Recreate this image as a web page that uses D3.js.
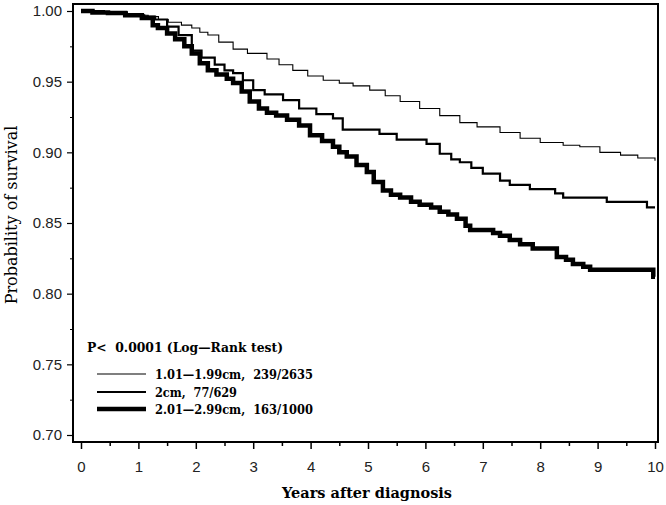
<!DOCTYPE html>
<html>
<head>
<meta charset="utf-8">
<script src="https://cdn.jsdelivr.net/npm/d3@7"></script>
<style>
html,body{margin:0;padding:0;background:#fff;}
svg{display:block;}
</style>
</head>
<body>
<svg id="chart" width="666" height="505"></svg>
<script>
// ---- data ----
const xTicks = [0,1,2,3,4,5,6,7,8,9,10];
const yTicks = [0.70,0.75,0.80,0.85,0.90,0.95,1.00];
const yTickLabels = ["0.70","0.75","0.80","0.85","0.90","0.95","1.00"];
const seriesNames = ["1.01\u20141.99cm,  239/2635","2cm,  77/629","2.01\u20142.99cm,  163/1000"];
const pValueText = "P<  0.0001 (Log\u2014Rank test)";
const xTitle = "Years after diagnosis";
const yTitle = "Probability of survival";

const thinTimes = [0,0.3,0.6,0.9,1.17,1.35,1.52,1.75,1.93,2.07,2.21,2.4,2.65,2.9,3.24,3.45,3.69,3.95,4.22,4.5,4.74,5.03,5.3,5.56,5.9,6.25,6.6,6.9,7.3,7.65,8.0,8.4,8.69,9.04,9.4,9.7,10.0];
const thinSurv  = [1.000,0.9995,0.998,0.997,0.996,0.994,0.992,0.990,0.988,0.985,0.983,0.978,0.973,0.970,0.966,0.962,0.958,0.954,0.951,0.949,0.947,0.944,0.940,0.936,0.931,0.926,0.921,0.918,0.914,0.910,0.907,0.905,0.904,0.900,0.898,0.896,0.894];

const midTimes = [0,0.4,0.8,1.1,1.29,1.5,1.7,1.93,2.1,2.33,2.5,2.65,2.82,3.0,3.2,3.52,3.8,4.1,4.39,4.56,5.2,5.5,6.02,6.25,6.45,6.6,6.8,7.0,7.3,7.47,7.82,8.26,8.4,9.16,9.86,10.0];
const midSurv  = [1.000,0.999,0.997,0.996,0.994,0.989,0.983,0.972,0.967,0.962,0.958,0.956,0.951,0.944,0.941,0.937,0.931,0.927,0.924,0.916,0.913,0.909,0.906,0.899,0.895,0.893,0.889,0.885,0.880,0.877,0.874,0.871,0.868,0.865,0.861,0.861];

const thickTimes = [0,0.2,0.47,0.77,1.06,1.25,1.34,1.5,1.64,1.8,1.93,2.07,2.21,2.36,2.54,2.65,2.8,2.94,3.1,3.24,3.4,3.59,3.8,3.99,4.2,4.39,4.5,4.63,4.8,4.98,5.1,5.26,5.4,5.56,5.75,5.9,6.1,6.25,6.4,6.55,6.7,6.78,7.18,7.3,7.47,7.65,7.87,8.29,8.45,8.57,8.75,8.87,9.97,10.0];
const thickSurv  = [1.000,0.999,0.9985,0.997,0.995,0.990,0.988,0.984,0.980,0.975,0.970,0.963,0.958,0.955,0.952,0.949,0.943,0.936,0.931,0.928,0.926,0.923,0.919,0.912,0.908,0.904,0.900,0.897,0.891,0.886,0.879,0.873,0.870,0.868,0.865,0.863,0.861,0.858,0.856,0.853,0.848,0.845,0.843,0.841,0.838,0.835,0.832,0.826,0.824,0.821,0.819,0.817,0.812,0.812];

// ---- chart ----
const svg = d3.select("#chart");
const x = d3.scaleLinear().domain([0,10]).range([81,655]);
const y = d3.scaleLinear().domain([0.70,1.00]).range([435,11]);
const frameL = 73, frameR = 658, frameT = 4, frameB = 442;

const serif = "'DejaVu Serif', 'Liberation Serif', serif";
const sans = "'Liberation Sans', 'DejaVu Sans', sans-serif";

// frame
svg.append("rect").attr("x",frameL).attr("y",frameT).attr("width",frameR-frameL).attr("height",frameB-frameT)
  .attr("fill","none").attr("stroke","#000").attr("stroke-width",2);

// x axis
const xAxis = d3.axisBottom(x).tickValues(xTicks).tickFormat(d3.format("d")).tickSize(7).tickPadding(12);
const gx = svg.append("g").attr("transform",`translate(0,${frameB})`).call(xAxis);
gx.select(".domain").remove();
gx.selectAll("line").attr("stroke","#000").attr("stroke-width",1.5);
gx.selectAll("text").attr("font-family",sans).attr("font-size",15).attr("fill","#222");
const gxm = svg.append("g").attr("transform",`translate(0,${frameB})`)
  .call(d3.axisBottom(x).tickValues(d3.range(0.5,10,1)).tickFormat("").tickSize(4));
gxm.select(".domain").remove();
gxm.selectAll("line").attr("stroke","#000").attr("stroke-width",1.5);

// y axis
const yAxis = d3.axisLeft(y).tickValues(yTicks).tickFormat((d,i)=>yTickLabels[i]).tickSize(6).tickPadding(5);
const gy = svg.append("g").attr("transform",`translate(${frameL},0)`).call(yAxis);
gy.select(".domain").remove();
gy.selectAll("line").attr("stroke","#000").attr("stroke-width",1.2);
gy.selectAll("text").attr("font-family",sans).attr("font-size",15).attr("fill","#222");
const gym = svg.append("g").attr("transform",`translate(${frameL},0)`)
  .call(d3.axisLeft(y).tickValues([0.725,0.775,0.825,0.875,0.925,0.975]).tickFormat("").tickSize(3));
gym.select(".domain").remove();
gym.selectAll("line").attr("stroke","#000").attr("stroke-width",1);

// titles
svg.append("text").attr("x",367).attr("y",498).attr("text-anchor","middle")
  .attr("font-family",serif).attr("font-weight","bold").attr("font-size",14.5).text(xTitle);
svg.append("text").attr("transform","translate(17,215) rotate(-90)").attr("text-anchor","middle")
  .attr("font-family",serif).attr("font-size",16).text(yTitle);

// curves
const line = d3.line().x(d=>x(d[0])).y(d=>y(d[1])).curve(d3.curveStepAfter);
const series = [
  {t:thinTimes, s:thinSurv, w:1.1},
  {t:midTimes, s:midSurv, w:2.2},
  {t:thickTimes, s:thickSurv, w:4.5}
];
series.forEach(sr=>{
  const pts = sr.t.map((t,i)=>[t,sr.s[i]]);
  svg.append("path").attr("d",line(pts)).attr("fill","none").attr("stroke","#000")
    .attr("stroke-width",sr.w).attr("stroke-linejoin","miter");
});

// legend
svg.append("text").attr("x",87).attr("y",352).attr("font-family",serif).attr("font-weight","bold")
  .attr("font-size",13).style("white-space","pre")
  .attr("textLength",196).attr("lengthAdjust","spacingAndGlyphs").text(pValueText);
const legY = [374,392,409];
const legLen = [158,82,158];
seriesNames.forEach((nm,i)=>{
  svg.append("line").attr("x1",97).attr("x2",146).attr("y1",legY[i]).attr("y2",legY[i])
    .attr("stroke","#000").attr("stroke-width",series[i].w);
  svg.append("text").attr("x",155).attr("y",legY[i]+5).attr("font-family",serif).attr("font-weight","bold")
    .attr("font-size",13.5).style("white-space","pre")
    .attr("textLength",legLen[i]).attr("lengthAdjust","spacingAndGlyphs").text(nm);
});
</script>
</body>
</html>
